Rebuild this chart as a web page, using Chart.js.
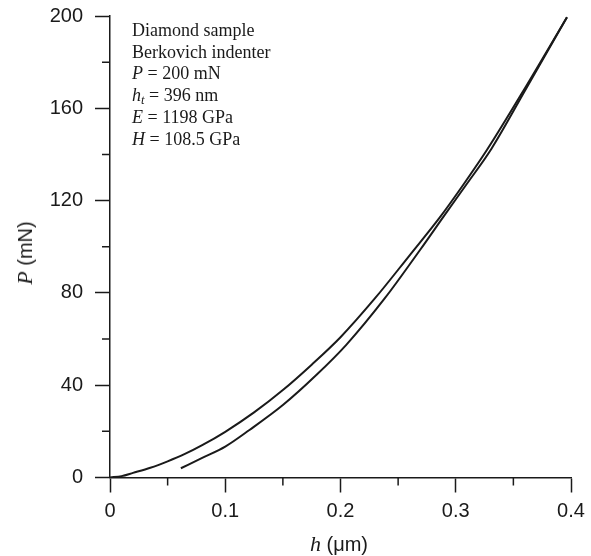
<!DOCTYPE html>
<html>
<head>
<meta charset="utf-8">
<title>Diamond indentation P-h curve</title>
<script src="https://cdn.jsdelivr.net/npm/chart.js@4.4.1/dist/chart.umd.min.js"></script>
<style>
    html, body { margin: 0; padding: 0; background: #fff; }
    #wrap { position: relative; width: 591px; height: 556px; }
    #chart { position: absolute; left: 0; top: 0; }
    .note {
        position: absolute; left: 132px; top: 20px;
        font: 18px "Liberation Serif", "Times New Roman", serif;
        line-height: 21.7px; color: #1a1a1a; white-space: nowrap;
    }
    .note sub { font-size: 0.7em; vertical-align: -0.25em; line-height: 0; }
    .axis-title {
        position: absolute; white-space: nowrap; color: #1a1a1a;
        font: 20px "Liberation Sans", Arial, sans-serif; line-height: 24px;
    }
    .axis-title i { font: italic 22px "Liberation Serif", "Times New Roman", serif; }
    #xTitle { left: 339px; top: 531px; transform: translateX(-50%); }
    #yTitle { left: 25px; top: 253px; transform: translate(-50%, -50%) rotate(-90deg); }
</style>
</head>
<body>
<div id="wrap">
    <canvas id="chart" width="591" height="556"></canvas>
    <div class="note">
        Diamond sample<br>
        Berkovich indenter<br>
        <i>P</i> = 200 mN<br>
        <i>h</i><sub><i>t</i></sub> = 396 nm<br>
        <i>E</i> = 1198 GPa<br>
        <i>H</i> = 108.5 GPa
    </div>
    <div class="axis-title" id="xTitle"><i>h</i> (μm)</div>
    <div class="axis-title" id="yTitle"><i>P</i> (mN)</div>
</div>
<script>
// loading branch (upper-left curve)
const loadH = [0, 0.01, 0.02, 0.035, 0.05, 0.065, 0.08, 0.1, 0.125, 0.15, 0.175, 0.2, 0.23, 0.26, 0.286, 0.307, 0.327, 0.36, 0.3965];
const loadP = [0, 0.6, 2.0, 4.2, 7.0, 10.2, 14.0, 19.8, 28.2, 37.9, 48.9, 60.8, 77.7, 96.3, 112.6, 127.2, 141.9, 168.7, 199.5];

// unloading branch (lower-right curve), listed by increasing depth
const unloadH = [0.0615, 0.08, 0.1, 0.121, 0.15, 0.179, 0.205, 0.2385, 0.269, 0.29, 0.31, 0.331, 0.36, 0.3965];
const unloadP = [4.0, 8.5, 13.4, 20.6, 31.4, 44.4, 57.5, 77.7, 98.6, 113.5, 127.5, 142.5, 167.6, 199.5];

// ticks
const xTickLabels = ['0', '0.1', '0.2', '0.3', '0.4'];
const yTickLabels = ['0', '40', '80', '120', '160', '200'];
const xMinorTicks = [0.05, 0.15, 0.25, 0.35];
const yMinorTicks = [20, 60, 100, 140, 180];

const INK = '#1a1a1a';

function toPoints(xs, ys) {
    return xs.map((x, i) => ({ x: x, y: ys[i] }));
}

// short outward ticks between the labelled ones
const minorTicks = {
    id: 'minorTicks',
    afterDraw(chart) {
        const { ctx, chartArea, scales } = chart;
        ctx.save();
        ctx.strokeStyle = INK;
        ctx.lineWidth = 1.5;
        ctx.beginPath();
        xMinorTicks.forEach(v => {
            const px = scales.x.getPixelForValue(v);
            ctx.moveTo(px, chartArea.bottom);
            ctx.lineTo(px, chartArea.bottom + 8);
        });
        yMinorTicks.forEach(v => {
            const py = scales.y.getPixelForValue(v);
            ctx.moveTo(chartArea.left, py);
            ctx.lineTo(chartArea.left - 8, py);
        });
        ctx.stroke();
        ctx.restore();
    }
};

const tickFont = { family: '"Liberation Sans", Arial, sans-serif', size: 20 };

new Chart(document.getElementById('chart'), {
    type: 'scatter',
    data: {
        datasets: [{
            label: 'Loading',
            data: toPoints(loadH, loadP),
            showLine: true,
            borderColor: INK,
            borderWidth: 2,
            pointRadius: 0,
            cubicInterpolationMode: 'monotone'
        }, {
            label: 'Unloading',
            data: toPoints(unloadH, unloadP),
            showLine: true,
            borderColor: INK,
            borderWidth: 2,
            pointRadius: 0,
            cubicInterpolationMode: 'monotone'
        }]
    },
    options: {
        responsive: false,
        animation: false,
        layout: { padding: { top: 16, right: 20, left: 0, bottom: 0 } },
        plugins: { legend: { display: false }, tooltip: { enabled: false } },
        scales: {
            x: {
                type: 'linear',
                min: 0, max: 0.4,
                afterFit: s => { s.height = 78.5; s.paddingLeft = 0; s.paddingRight = 0; },
                afterBuildTicks: s => { s.ticks = xTickLabels.map(t => ({ value: parseFloat(t) })); },
                ticks: {
                    color: INK, font: tickFont, padding: 7,
                    callback: (v, i) => xTickLabels[i]
                },
                grid: { drawOnChartArea: false, tickLength: 15, tickColor: INK, tickWidth: 1.5 },
                border: { display: true, color: INK, width: 1.5 }
            },
            y: {
                type: 'linear',
                min: 0, max: 200,
                afterFit: s => { s.width = 110; s.paddingTop = 0; s.paddingBottom = 0; },
                afterBuildTicks: s => { s.ticks = yTickLabels.map(t => ({ value: parseFloat(t) })); },
                ticks: {
                    color: INK, font: tickFont, padding: 12,
                    callback: (v, i) => yTickLabels[i]
                },
                grid: { drawOnChartArea: false, tickLength: 15, tickColor: INK, tickWidth: 1.5 },
                border: { display: true, color: INK, width: 1.5 }
            }
        }
    },
    plugins: [minorTicks]
});
</script>
</body>
</html>
